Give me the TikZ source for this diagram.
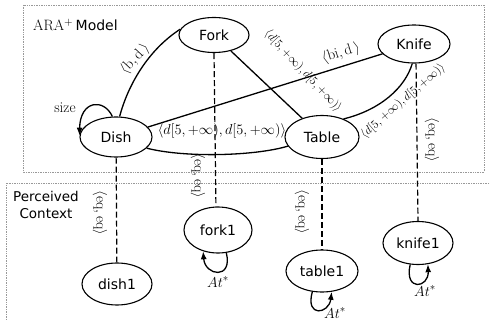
\documentclass[tikz,border=0pt]{standalone}
\usepackage{fontspec}
\newfontfamily\vera{DejaVu Sans}
\usetikzlibrary{shapes.geometric,arrows.meta}
\begin{document}
\begin{tikzpicture}[x=1pt,y=-1pt,
  ent/.style={draw, ellipse, line width=1.1pt, inner sep=1pt, font=\vera\fontsize{14}{16}\selectfont},
  rel/.style={line width=1.3pt},
  loopedge/.style={line width=1.3pt, -{Latex[length=8pt,width=6pt]}},
  mapedge/.style={line width=1.2pt, dash pattern=on 6pt off 3pt},
  lbl/.style={inner sep=0pt, font=\fontsize{15}{18}\selectfont},
  lblsmall/.style={inner sep=0pt, font=\fontsize{13}{16}\selectfont},
  frame/.style={densely dotted, gray!80, line width=0.7pt},
  txt/.style={inner sep=0pt, font=\vera\fontsize{13.5}{17}\selectfont}]
\useasboundingbox (0,0) rectangle (490,321);
% frames
\draw[frame] (23,5) rectangle (484,172);
\draw[frame] (6,330) -- (6,183) -- (495,183);
\node[anchor=west, inner sep=0pt] (title) at (33,25) {\fontsize{15}{18}\selectfont ARA$^+$\,{\vera\fontsize{14}{16}\selectfont Model}};
\node[txt, align=center] (pc) at (46,205) {Perceived\\Context};
% entities
\node[ent, minimum width=70pt, minimum height=35pt] (fork) at (214,35) {Fork};
\node[ent, minimum width=72pt, minimum height=38pt] (knife) at (414,44) {Knife};
\node[ent, minimum width=72pt, minimum height=40pt] (dish) at (116,137) {Dish};
\node[ent, minimum width=74pt, minimum height=43pt] (table) at (322,137) {Table};
\node[ent, minimum width=70pt, minimum height=42pt] (dish1) at (117,284) {dish1};
\node[ent, minimum width=68pt, minimum height=46pt] (fork1) at (218,230) {fork1};
\node[ent, minimum width=72pt, minimum height=42pt] (table1) at (322,271) {table1};
\node[ent, minimum width=70pt, minimum height=43pt] (knife1) at (418,243) {knife1};
% relations
\draw[rel] (dish.80) .. controls (128,85) and (148,50) .. (fork.170);
\draw[rel] (fork) -- (table);
\draw[rel] (dish) -- (knife);
\draw[rel] (dish.-20) .. controls (185,158) and (255,156) .. (table.195);
\draw[rel] (table.40) .. controls (380,110) and (405,88) .. (knife.265);
% dish self loop
\draw[loopedge] (dish.100) .. controls (104,98) and (80,100) .. (dish.178);
\node[lbl] (size) at (65,108) {size};
% mapping lines
\draw[mapedge] (dish) -- (dish1);
\draw[mapedge] (fork.south) -- (fork1.95);
\draw[mapedge] (table) -- (table1);
\draw[mapedge] (knife.-84) -- (knife1.north);
% perceived loops
\draw[loopedge] (fork1.-70) .. controls (233,280) and (205,276) .. (fork1.235);
\draw[loopedge] (table1.245) .. controls (305,318) and (329,314) .. (table1.-65);
\draw[loopedge] (knife1.250) .. controls (404,292) and (429,288) .. (knife1.-65);
\node[lbl] (at1) at (218,282) {$At^*$};
\node[lbl] (at2) at (335,313) {$At^*$};
\node[lbl] (at3) at (425,291) {$At^*$};
% relation labels
\node[lbl, rotate=47] (lbd) at (135,59) {$\langle \mathrm{b,d}\,\rangle$};
\node[lbl, rotate=17] (lbid) at (341,53) {$\langle \mathrm{bi,d}\,\rangle$};
\node[lbl] (ldt) at (222,131) {$\langle d[5,+\infty), d[5,+\infty)\rangle$};
\node[lblsmall, rotate=-47] (lft) at (303,71) {$\langle d[5,+\infty), d[5,+\infty)\rangle$};
\node[lblsmall, rotate=41] (ltk) at (403,101) {$\langle d[5,+\infty), d[5,+\infty)\rangle$};
\node[lbl, rotate=-90] (e1) at (100,213) {$\langle \mathrm{eq,eq}\rangle$};
\node[lbl, rotate=-90] (e2) at (198,176) {$\langle \mathrm{eq,eq}\rangle$};
\node[lbl, rotate=-90] (e3) at (302,212) {$\langle \mathrm{eq,eq}\rangle$};
\node[lbl, rotate=-90] (e4) at (432,140) {$\langle \mathrm{eq,eq}\rangle$};
\end{tikzpicture}
\end{document}
